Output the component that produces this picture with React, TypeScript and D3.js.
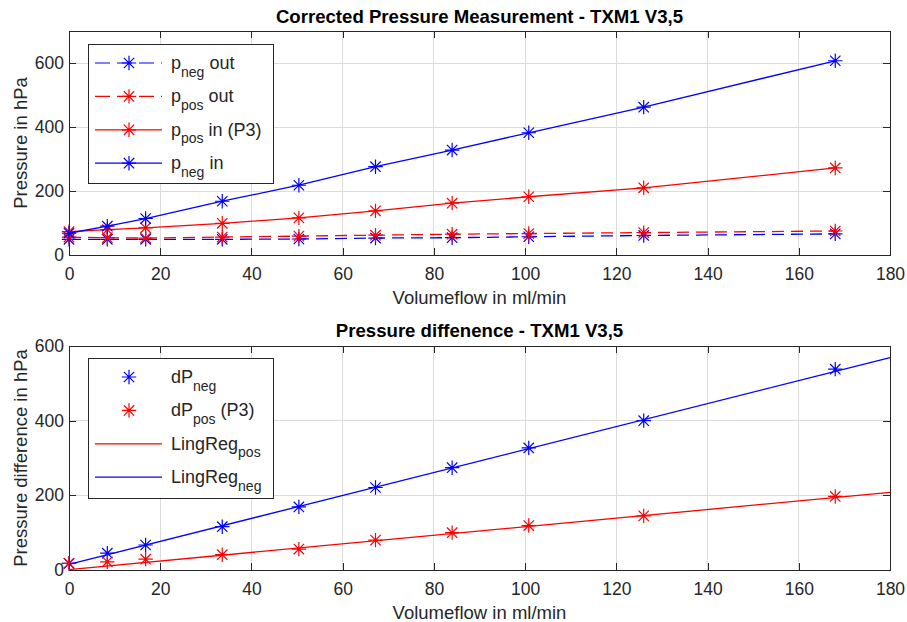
import { useEffect, useRef } from 'react'
import * as d3 from 'd3'

// volume flow in ml/min (shared by both panels)
const flow = [0, 8.4, 16.8, 33.6, 50.4, 67.2, 84, 100.8, 126, 168]

// top panel: corrected pressures in hPa
const pNegOut = [49, 49, 49, 49, 50, 53, 54, 57, 61, 66]
const pPosOut = [56, 54, 53, 56, 59, 62, 65, 67, 70, 75]
const pPosIn = [73, 79, 85, 99, 116, 138, 162, 182, 210, 272]
const pNegIn = [68, 90, 114, 168, 218, 276, 328, 382, 462, 607]

// bottom panel: pressure differences in hPa
const dPNeg = [18, 45, 67, 116, 169, 221, 274, 327, 400, 538]
const dPPos = [18, 22, 29, 41, 56, 80, 100, 119, 145, 197]

// linear regression lines (end points)
const regFlow = [0, 180]
const linRegPos = [1, 208]
const linRegNeg = [15, 569]

const xTicks = [0, 20, 40, 60, 80, 100, 120, 140, 160, 180]
const yTicksTop = [0, 200, 400, 600]
const yTicksBottom = [0, 200, 400, 600]

const W = 907
const H = 622
const X0 = 69
const X1 = 890
const FONT = "'Liberation Sans', Arial, Helvetica, sans-serif"
const AXIS = '#262626'
const GRID = '#dcdcdc'
const BLUE = '#0000ff'
const RED = '#ff0000'

const star = (r) => {
  const a = r * 0.72
  return `M0,${-r}V${r}M${-r},0H${r}M${-a},${-a}L${a},${a}M${-a},${a}L${a},${-a}`
}

function drawPanel(svg, p) {
  const x = d3.scaleLinear().domain([0, 180]).range([X0, X1])
  const y = d3.scaleLinear().domain(p.yDomain).range([p.bottom, p.top])
  const g = svg.append('g')

  // grid
  g.append('g')
    .selectAll('line')
    .data(xTicks.filter(d => d > 0 && d < 180))
    .join('line')
    .attr('x1', d => x(d)).attr('x2', d => x(d))
    .attr('y1', p.top).attr('y2', p.bottom)
    .attr('stroke', GRID).attr('shape-rendering', 'crispEdges')
  g.append('g')
    .selectAll('line')
    .data(p.yTicks.filter(d => d > p.yDomain[0] && d < p.yDomain[1]))
    .join('line')
    .attr('x1', X0).attr('x2', X1)
    .attr('y1', d => y(d)).attr('y2', d => y(d))
    .attr('stroke', GRID).attr('shape-rendering', 'crispEdges')

  // axes, ticks pointing inwards on all four sides
  const styleAxis = (sel) => {
    sel.attr('color', AXIS).attr('font-family', FONT).attr('font-size', 17.5)
    sel.select('.domain').remove()
    sel.selectAll('line').attr('shape-rendering', 'crispEdges')
    sel.selectAll('text').attr('fill', AXIS)
  }
  g.append('g')
    .attr('transform', `translate(0,${p.bottom})`)
    .call(d3.axisBottom(x).tickValues(xTicks).tickSizeInner(-7).tickSizeOuter(0).tickPadding(13))
    .call(styleAxis)
  g.append('g')
    .attr('transform', `translate(0,${p.top})`)
    .call(d3.axisTop(x).tickValues(xTicks).tickSizeInner(-7).tickSizeOuter(0).tickFormat(() => ''))
    .call(styleAxis)
  g.append('g')
    .attr('transform', `translate(${X0},0)`)
    .call(d3.axisLeft(y).tickValues(p.yTicks).tickSizeInner(-7).tickSizeOuter(0).tickPadding(5))
    .call(styleAxis)
  g.append('g')
    .attr('transform', `translate(${X1},0)`)
    .call(d3.axisRight(y).tickValues(p.yTicks).tickSizeInner(-7).tickSizeOuter(0).tickFormat(() => ''))
    .call(styleAxis)

  // box
  g.append('rect')
    .attr('x', X0).attr('y', p.top)
    .attr('width', X1 - X0).attr('height', p.bottom - p.top)
    .attr('fill', 'none').attr('stroke', AXIS).attr('shape-rendering', 'crispEdges')

  // data
  const line = d3.line().x(d => x(d[0])).y(d => y(d[1]))
  p.series.forEach(s => {
    const pts = s.x.map((v, i) => [v, s.y[i]])
    if (s.line) {
      g.append('path')
        .datum(pts)
        .attr('fill', 'none')
        .attr('stroke', s.color)
        .attr('stroke-width', 1.3)
        .attr('stroke-dasharray', s.dash ? '12,7' : null)
        .attr('d', line)
    }
    if (s.marker) {
      g.append('g')
        .selectAll('path')
        .data(pts)
        .join('path')
        .attr('transform', d => `translate(${x(d[0])},${y(d[1])})`)
        .attr('d', star(7.2))
        .attr('fill', 'none')
        .attr('stroke', s.color)
        .attr('stroke-width', 1.2)
    }
  })

  // labels
  g.append('text')
    .attr('x', (X0 + X1) / 2).attr('y', p.titleY)
    .attr('text-anchor', 'middle')
    .attr('font-family', FONT).attr('font-size', 18.6).attr('font-weight', 'bold')
    .attr('fill', '#000')
    .text(p.title)
  g.append('text')
    .attr('x', (X0 + X1) / 2).attr('y', p.bottom + 49)
    .attr('text-anchor', 'middle')
    .attr('font-family', FONT).attr('font-size', 18.5)
    .attr('fill', AXIS)
    .text('Volumeflow in ml/min')
  g.append('text')
    .attr('transform', `translate(27,${(p.top + p.bottom) / 2}) rotate(-90)`)
    .attr('text-anchor', 'middle')
    .attr('font-family', FONT).attr('font-size', 18.5)
    .attr('fill', AXIS)
    .text(p.ylabel)

  // legend
  const lg = p.legend
  g.append('rect')
    .attr('x', 88).attr('y', lg.top)
    .attr('width', 185).attr('height', lg.height)
    .attr('fill', '#fff').attr('stroke', AXIS).attr('shape-rendering', 'crispEdges')
  lg.entries.forEach((e, i) => {
    const cy = lg.top + 19 + i * 33.4
    if (e.line) {
      g.append('line')
        .attr('x1', 95).attr('x2', 162).attr('y1', cy).attr('y2', cy)
        .attr('stroke', e.color).attr('stroke-width', 1.2)
        .attr('stroke-dasharray', e.dash ? '15,7' : null)
    }
    if (e.marker) {
      g.append('path')
        .attr('transform', `translate(129,${cy})`)
        .attr('d', star(7.2))
        .attr('fill', 'none').attr('stroke', e.color).attr('stroke-width', 1.2)
    }
    const t = g.append('text')
      .attr('x', 171).attr('y', cy + 6)
      .attr('font-family', FONT).attr('font-size', 18)
      .attr('fill', AXIS)
      .style('white-space', 'pre')
    let shift = 0
    e.label.forEach(([txt, sub]) => {
      const dy = sub ? 7.5 - shift : -shift
      shift = sub ? 7.5 : 0
      t.append('tspan')
        .attr('dy', dy)
        .attr('font-size', sub ? 14 : 18)
        .text(txt)
    })
  })
}

export default function App() {
  const ref = useRef(null)

  useEffect(() => {
    const svg = d3.select(ref.current)
    svg.selectAll('*').remove()

    drawPanel(svg, {
      top: 31,
      bottom: 255,
      yDomain: [0, 700],
      yTicks: yTicksTop,
      titleY: 23,
      title: 'Corrected Pressure Measurement - TXM1 V3,5',
      ylabel: 'Pressure in hPa',
      series: [
        { x: flow, y: pNegOut, color: BLUE, dash: true, line: true, marker: true },
        { x: flow, y: pPosOut, color: RED, dash: true, line: true, marker: true },
        { x: flow, y: pPosIn, color: RED, dash: false, line: true, marker: true },
        { x: flow, y: pNegIn, color: BLUE, dash: false, line: true, marker: true }
      ],
      legend: {
        top: 44,
        height: 139,
        entries: [
          { label: [['p'], ['neg', true], [' out']], color: BLUE, dash: true, line: true, marker: true },
          { label: [['p'], ['pos', true], [' out']], color: RED, dash: true, line: true, marker: true },
          { label: [['p'], ['pos', true], [' in (P3)']], color: RED, dash: false, line: true, marker: true },
          { label: [['p'], ['neg', true], [' in']], color: BLUE, dash: false, line: true, marker: true }
        ]
      }
    })

    drawPanel(svg, {
      top: 346,
      bottom: 570,
      yDomain: [0, 600],
      yTicks: yTicksBottom,
      titleY: 337,
      title: 'Pressure diffenence - TXM1 V3,5',
      ylabel: 'Pressure difference in hPa',
      series: [
        { x: flow, y: dPNeg, color: BLUE, line: false, marker: true },
        { x: flow, y: dPPos, color: RED, line: false, marker: true },
        { x: regFlow, y: linRegPos, color: RED, line: true, marker: false },
        { x: regFlow, y: linRegNeg, color: BLUE, line: true, marker: false }
      ],
      legend: {
        top: 358,
        height: 140,
        entries: [
          { label: [['dP'], ['neg', true]], color: BLUE, line: false, marker: true },
          { label: [['dP'], ['pos', true], [' (P3)']], color: RED, line: false, marker: true },
          { label: [['LingReg'], ['pos', true]], color: RED, line: true, marker: false },
          { label: [['LingReg'], ['neg', true]], color: BLUE, line: true, marker: false }
        ]
      }
    })
  }, [])

  return (
    <svg
      ref={ref}
      width={W}
      height={H}
      style={{ position: 'absolute', left: 0, top: 0, background: '#fff', display: 'block' }}
    />
  )
}
